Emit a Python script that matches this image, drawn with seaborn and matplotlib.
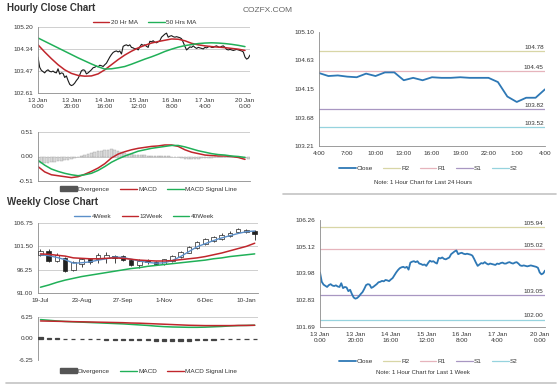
import matplotlib
matplotlib.use('Agg')
import matplotlib.pyplot as plt
from matplotlib.lines import Line2D
from matplotlib.patches import Patch
import numpy as np
import seaborn as sns

# ---- hourly data, last week (13 Jan 0:00 -> 20 Jan) ----
hourly_close = [
    104.02, 103.62, 103.50, 103.45, 103.40, 103.48, 103.52, 103.46, 103.44, 103.47,
    103.42, 103.40, 103.56, 103.35, 103.40, 103.38, 103.22, 103.28, 103.10, 102.95,
    102.90, 102.93, 103.00, 103.10, 103.18, 103.32, 103.48, 103.52, 103.50, 103.36,
    103.40, 103.46, 103.52, 103.60, 103.62, 103.66, 103.64, 103.70, 103.68, 103.65,
    103.72, 103.78, 103.90, 104.02, 104.12, 104.20, 104.24, 104.26, 104.22, 104.26,
    104.14, 104.44, 104.48, 104.50, 104.46, 104.50, 104.40, 104.38, 104.34, 104.36,
    104.30, 104.42, 104.52, 104.48, 104.50, 104.44, 104.40, 104.64, 104.62, 104.66,
    104.60, 104.58, 104.62, 104.66, 104.80, 104.86, 104.92, 104.96, 104.80, 104.84,
    104.86, 104.82, 104.80, 104.82, 104.80, 104.78, 104.74, 104.60, 104.44, 104.30,
    104.36, 104.42, 104.40, 104.46, 104.40, 104.36, 104.40, 104.38, 104.36, 104.34,
    104.40, 104.38, 104.42, 104.44, 104.40, 104.40, 104.44, 104.46, 104.42, 104.40,
    104.44, 104.46, 104.40, 104.32, 104.30, 104.32, 104.30, 104.28, 104.30, 104.32,
    104.30, 104.28, 104.26, 104.22, 104.02, 103.94, 103.98, 104.10,
]
hourly_tick_pos = [0, 20, 40, 60, 80, 100, 124]
hourly_tick_labels = ["13 Jan\n0:00", "13 Jan\n20:00", "14 Jan\n16:00", "15 Jan\n12:00",
                      "16 Jan\n8:00", "17 Jan\n4:00", "20 Jan\n0:00"]

# moving averages / macd read every 4 hours
ma20 = [104.50, 104.22, 103.96, 103.72, 103.52, 103.38, 103.30, 103.27, 103.28, 103.36,
        103.52, 103.72, 103.92, 104.10, 104.25, 104.38, 104.48, 104.57, 104.63, 104.68,
        104.73, 104.72, 104.66, 104.56, 104.50, 104.46, 104.43, 104.41, 104.39, 104.36,
        104.33, 104.28]
ma50 = [104.77, 104.64, 104.51, 104.38, 104.25, 104.12, 103.99, 103.87, 103.75, 103.64,
        103.55, 103.56, 103.60, 103.65, 103.74, 103.84, 103.94, 104.03, 104.13, 104.24,
        104.33, 104.41, 104.47, 104.51, 104.55, 104.57, 104.58, 104.57, 104.55, 104.52,
        104.48, 104.43]
macd_h = [-0.21, -0.32, -0.38, -0.40, -0.42, -0.44, -0.42, -0.37, -0.31, -0.24,
          -0.15, -0.03, 0.05, 0.10, 0.14, 0.17, 0.19, 0.21, 0.22, 0.24,
          0.24, 0.21, 0.14, 0.09, 0.06, 0.03, 0.02, 0.01, 0.01, 0.00,
          -0.02, -0.06]
signal_h = [-0.08, -0.18, -0.26, -0.31, -0.35, -0.38, -0.40, -0.38, -0.35, -0.29,
            -0.21, -0.12, -0.05, 0.01, 0.06, 0.11, 0.14, 0.17, 0.19, 0.21,
            0.23, 0.23, 0.20, 0.16, 0.12, 0.09, 0.06, 0.04, 0.03, 0.01,
            0.00, -0.02]
# divergence read every 2 hours
diverg_h = [-0.14, -0.14, -0.13, -0.13, -0.12, -0.11, -0.10, -0.09, -0.08, -0.07,
            -0.06, -0.04, -0.02, 0.01, 0.03, 0.05, 0.07, 0.09, 0.11, 0.12,
            0.13, 0.14, 0.15, 0.14, 0.12, 0.10, 0.08, 0.06, 0.05, 0.04,
            0.04, 0.03, 0.03, 0.02, 0.02, 0.02, 0.02, 0.01, 0.01, 0.01,
            0.00, -0.01, -0.02, -0.04, -0.05, -0.06, -0.06, -0.05, -0.05, -0.04,
            -0.04, -0.03, -0.03, -0.02, -0.02, -0.01, -0.01, -0.01, -0.01, -0.01,
            -0.02, -0.03, -0.04, -0.05]

# ---- last 24 hours ----
day_close = [104.42, 104.37, 104.38, 104.36, 104.35, 104.41, 104.37, 104.43, 104.43, 104.30,
             104.34, 104.30, 104.35, 104.34, 104.34, 104.35, 104.34, 104.34, 104.34, 104.27,
             104.03, 103.94, 104.01, 104.01, 104.15]
day_tick_labels = ["4:00", "7:00", "10:00", "13:00", "16:00", "19:00", "22:00", "1:00", "4:00"]

# pivot levels
levels_names = ["R2", "R1", "S1", "S2"]
levels_day = [104.78, 104.45, 103.82, 103.52]
levels_week = [105.94, 105.02, 103.05, 102.00]

# ---- weekly data ----
wk_open = [99.61, 100.54, 98.20, 98.90, 96.25, 97.47, 98.54, 98.54, 98.90, 99.40,
           99.40, 98.40, 97.25, 98.40, 97.97, 97.47, 98.18, 99.11, 100.11, 101.18,
           102.11, 102.68, 103.20, 103.89, 104.82, 104.82, 104.96]
wk_close = [100.54, 98.18, 99.60, 96.04, 97.97, 98.54, 97.97, 99.61, 99.61, 98.90,
            98.40, 97.25, 98.18, 97.97, 97.47, 98.54, 99.25, 100.32, 101.39, 102.47,
            103.18, 103.54, 104.11, 104.61, 105.32, 105.11, 104.25]
wk_high = [101.00, 100.80, 99.90, 99.00, 98.30, 98.80, 98.80, 100.11, 100.32, 99.61,
           99.60, 98.60, 98.54, 98.60, 98.20, 98.70, 99.50, 100.50, 101.60, 102.70,
           103.40, 103.80, 104.40, 104.90, 105.60, 105.40, 105.20]
wk_low = [99.30, 98.00, 97.90, 95.83, 95.90, 96.90, 97.50, 97.82, 97.82, 97.82,
          98.20, 97.00, 96.54, 97.60, 97.20, 97.30, 98.00, 98.90, 99.90, 101.00,
          101.90, 102.40, 103.00, 103.70, 104.60, 104.50, 102.97]
wk4 = [99.6, 99.4, 99.0, 98.5, 97.7, 97.8, 98.0, 98.4, 98.7, 99.1,
       99.0, 98.6, 98.2, 97.9, 97.7, 97.8, 98.3, 99.2, 100.3, 101.4,
       102.1, 102.8, 103.4, 103.9, 104.4, 104.8, 104.95]
wk13 = [99.8, 99.7, 99.5, 99.3, 98.9, 98.8, 98.7, 98.7, 98.8, 98.9,
        98.8, 98.6, 98.4, 98.3, 98.2, 98.2, 98.3, 98.5, 98.7, 98.9,
        99.2, 99.6, 100.0, 100.5, 101.0, 101.5, 102.2]
wk40 = [92.3, 92.8, 93.4, 93.9, 94.3, 94.7, 95.0, 95.3, 95.6, 95.9,
        96.2, 96.5, 96.7, 97.0, 97.2, 97.4, 97.6, 97.8, 98.0, 98.2,
        98.4, 98.7, 98.9, 99.2, 99.4, 99.6, 99.8]
macd_w = [5.5, 5.3, 5.1, 4.95, 4.85, 4.75, 4.65, 4.55, 4.45, 4.35,
          4.25, 4.1, 3.95, 3.8, 3.6, 3.45, 3.35, 3.3, 3.25, 3.25,
          3.3, 3.4, 3.5, 3.65, 3.75, 3.8, 3.85]
signal_w = [5.1, 5.05, 5.0, 4.95, 4.9, 4.85, 4.8, 4.75, 4.7, 4.65,
            4.6, 4.5, 4.45, 4.35, 4.25, 4.15, 4.05, 3.95, 3.85, 3.8,
            3.75, 3.75, 3.75, 3.75, 3.8, 3.8, 3.85]
diverg_w = [0.4, 0.25, 0.2, -0.2, -0.2, -0.2, -0.25, -0.25, -0.3, -0.3,
            -0.35, -0.4, -0.5, -0.55, -0.65, -0.7, -0.7, -0.65, -0.6, -0.55,
            -0.45, -0.35, -0.25, -0.2, -0.2, -0.2, -0.2]
wk_tick_pos = [0, 5, 10, 15, 20, 25]
wk_tick_labels = ["19-Jul", "23-Aug", "27-Sep", "1-Nov", "6-Dec", "10-Jan"]

RED = "#c0262c"
GREEN = "#20b058"
BLUE = "#2e78b5"
LBLUE = "#5b8fc9"
LEVEL_COLORS = ["#d8d6a6", "#e6b4bc", "#a897c2", "#96d3de"]
TXT = "#333333"
FS = 4.6

sns.set_style("white")
plt.rcParams['font.family'] = ['Liberation Sans', 'DejaVu Sans']


def style_axis(ax, yticks, grid=True):
    ax.set_ylim(yticks[0], yticks[-1])
    ax.set_yticks(yticks)
    ax.set_yticklabels(["%.2f" % v for v in yticks])
    ax.tick_params(labelsize=FS, labelcolor=TXT, color="#888888", length=2, width=0.5, pad=1.5)
    ax.spines["top"].set_visible(False)
    ax.spines["right"].set_visible(False)
    for s in ["left", "bottom"]:
        ax.spines[s].set_color("#8c8c8c")
        ax.spines[s].set_linewidth(0.6)
    if grid:
        ax.yaxis.grid(True, color="#c8c8c8", lw=0.6)
        ax.set_axisbelow(True)
    ax.set_xlabel("")
    ax.set_ylabel("")


def legend(fig, handles, labels, x, y):
    fig.legend(handles, labels, loc="center", bbox_to_anchor=(x, y), ncol=len(handles),
               frameon=False, fontsize=FS, handlelength=2.6, handletextpad=0.2,
               columnspacing=1.6, labelcolor=TXT)


def line(color, lw=1.0):
    return Line2D([], [], color=color, lw=lw)


fig = plt.figure(figsize=(5.6, 3.86), dpi=100)
fig.patch.set_facecolor("white")

W = 560.0
H = 386.0


def box(l, t, r, b):
    return [l / W, 1 - b / H, (r - l) / W, (b - t) / H]


x_hour = np.arange(len(hourly_close))
x_ma = np.arange(len(ma20)) * 4
x_div = np.arange(len(diverg_h)) * 2
x_day = np.arange(len(day_close))
x_wk = np.arange(len(wk_close))

# ---- hourly close chart ----
ax1 = fig.add_axes(box(38, 27, 250, 93))
sns.lineplot(x=x_hour, y=hourly_close, ax=ax1, color="#1a1a1a", lw=0.8)
sns.lineplot(x=x_ma, y=ma20, ax=ax1, color=RED, lw=1.1)
sns.lineplot(x=x_ma, y=ma50, ax=ax1, color=GREEN, lw=1.1)
style_axis(ax1, [102.61, 103.47, 104.34, 105.20])
ax1.set_xlim(0, 127)
ax1.set_xticks(hourly_tick_pos)
ax1.set_xticklabels(hourly_tick_labels, linespacing=1.3)
legend(fig, [line(RED), line(GREEN)], ["20 Hr MA", "50 Hrs MA"], 0.258, 1 - 22 / H)

# ---- hourly macd ----
ax2 = fig.add_axes(box(38, 132, 250, 181))
ax2.bar(x_div, diverg_h, width=1.6, color="#d9d9d9", edgecolor="#a0a0a0", lw=0.3)
sns.lineplot(x=x_ma, y=macd_h, ax=ax2, color=RED, lw=1.1)
sns.lineplot(x=x_ma, y=signal_h, ax=ax2, color=GREEN, lw=1.1)
style_axis(ax2, [-0.51, 0.00, 0.51])
ax2.set_xlim(0, 127)
ax2.set_xticks(hourly_tick_pos)
ax2.set_xticklabels([])
legend(fig, [Patch(color="#555555"), line(RED), line(GREEN)],
       ["Divergence", "MACD", "MACD Signal Line"], 0.265, 1 - 189 / H)

# ---- weekly close chart ----
ax3 = fig.add_axes(box(38, 223, 258, 293))
for i in x_wk:
    o, c = wk_open[i], wk_close[i]
    ax3.vlines(i, wk_low[i], wk_high[i], color="#222222", lw=0.6, zorder=3)
    ax3.bar(i, abs(c - o), bottom=min(o, c), width=0.55,
            color="white" if c >= o else "#222222", edgecolor="#222222", lw=0.5, zorder=4)
sns.lineplot(x=x_wk, y=wk4, ax=ax3, color=LBLUE, lw=1.0, zorder=5)
sns.lineplot(x=x_wk, y=wk13, ax=ax3, color=RED, lw=1.1, zorder=5)
sns.lineplot(x=x_wk, y=wk40, ax=ax3, color=GREEN, lw=1.1, zorder=5)
style_axis(ax3, [91.00, 96.25, 101.50, 106.75])
ax3.set_xlim(-0.3, 26.4)
ax3.set_xticks(wk_tick_pos)
ax3.set_xticklabels(wk_tick_labels)
legend(fig, [line(LBLUE), line(RED), line(GREEN)], ["4Week", "13Week", "40Week"],
       0.257, 1 - 216 / H)

# ---- weekly macd ----
ax4 = fig.add_axes(box(38, 317, 258, 360))
ax4.bar(x_wk, diverg_w, width=0.5, color="#444444", edgecolor="#444444", lw=0.9, zorder=3)
sns.lineplot(x=x_wk, y=macd_w, ax=ax4, color=GREEN, lw=1.1)
sns.lineplot(x=x_wk, y=signal_w, ax=ax4, color=RED, lw=1.1)
style_axis(ax4, [-6.25, 0.00, 6.25], grid=False)
ax4.axhline(6.25, color="#c8c8c8", lw=0.6)
ax4.spines["bottom"].set_visible(False)
ax4.set_xlim(-0.3, 26.4)
ax4.set_xticks([])
legend(fig, [Patch(color="#555555"), line(GREEN), line(RED)],
       ["Divergence", "MACD", "MACD Signal Line"], 0.265, 1 - 371 / H)

# ---- last 24 hours with pivots ----
ax5 = fig.add_axes(box(319, 32, 545, 146))
for name, v, col in zip(levels_names, levels_day, LEVEL_COLORS):
    ax5.axhline(v, color=col, lw=0.9)
    ax5.annotate("%.2f" % v, xy=(1, v), xycoords=("axes fraction", "data"), xytext=(-1, 1),
                 textcoords="offset points", ha="right", va="bottom", fontsize=FS, color=TXT)
sns.lineplot(x=x_day, y=day_close, ax=ax5, color=BLUE, lw=1.3)
style_axis(ax5, [103.21, 103.68, 104.15, 104.63, 105.10], grid=False)
ax5.set_xlim(0, 24)
ax5.set_xticks(np.arange(0, 25, 3))
ax5.set_xticklabels(day_tick_labels)
lev_handles = [line(BLUE, 1.3)] + [line(c, 0.9) for c in LEVEL_COLORS]
legend(fig, lev_handles, ["Close"] + levels_names, 0.765, 1 - 168 / H)
fig.text(0.755, 1 - 182 / H, "Note: 1 Hour Chart for Last 24 Hours", ha="center",
         va="center", fontsize=4.3, color=TXT)

# ---- last week with pivots ----
ax6 = fig.add_axes(box(320, 220, 545, 327))
for name, v, col in zip(levels_names, levels_week, LEVEL_COLORS):
    ax6.axhline(v, color=col, lw=0.9)
    ax6.annotate("%.2f" % v, xy=(1, v), xycoords=("axes fraction", "data"), xytext=(-1, 1),
                 textcoords="offset points", ha="right", va="bottom", fontsize=FS, color=TXT)
sns.lineplot(x=x_hour, y=hourly_close, ax=ax6, color=BLUE, lw=1.3)
style_axis(ax6, [101.69, 102.83, 103.98, 105.12, 106.26], grid=False)
ax6.set_xlim(0, 127)
ax6.set_xticks(hourly_tick_pos)
ax6.set_xticklabels(hourly_tick_labels, linespacing=1.3)
legend(fig, lev_handles, ["Close"] + levels_names, 0.765, 1 - 361 / H)
fig.text(0.755, 1 - 373 / H, "Note: 1 Hour Chart for Last 1 Week", ha="center",
         va="center", fontsize=4.3, color=TXT)

# titles, brand and separators
fig.text(7 / W, 1 - 8 / H, "Hourly Close Chart", fontsize=7, fontweight="bold",
         color="#333333", va="center")
fig.text(7 / W, 1 - 202 / H, "Weekly Close Chart", fontsize=7, fontweight="bold",
         color="#333333", va="center")
fig.text(243 / W, 1 - 10 / H, "COZFX.COM", fontsize=6, color="#666666", va="center")
fig.add_artist(Line2D([283 / W, 556 / W], [1 - 194 / H] * 2, color="#c4c4c4", lw=1.2))
fig.add_artist(Line2D([6 / W, 556 / W], [1 - 383 / H] * 2, color="#c4c4c4", lw=1.2))

fig.savefig("out.png", dpi=100, facecolor="white")
